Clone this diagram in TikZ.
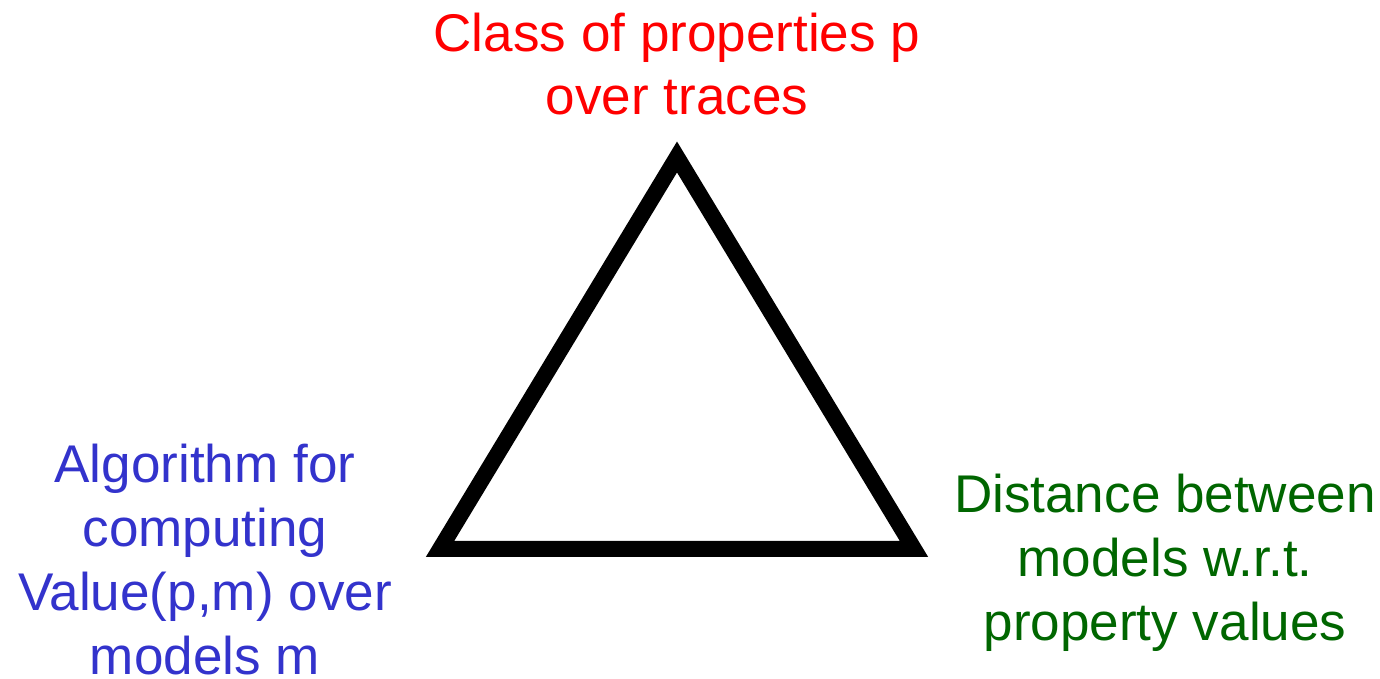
\documentclass[tikz,border=0pt]{standalone}
\usepackage{fontspec}
\setmainfont{Liberation Sans}
\usetikzlibrary{positioning}
\definecolor{triblack}{RGB}{0,0,0}
\definecolor{trired}{RGB}{255,0,0}
\definecolor{triblue}{RGB}{51,51,204}
\definecolor{trigreen}{RGB}{0,102,0}
\tikzset{
  vertex/.style={
    inner sep=0pt, anchor=base, align=center,
    font=\fontsize{30.2}{36.4}\selectfont
  },
  vertexR/.style={vertex, text=trired},
  vertexB/.style={vertex, text=triblue},
  vertexG/.style={vertex, text=trigreen},
  tri/.style={draw=triblack, line width=0.32cm, line join=miter}
}

\begin{document}
\begin{tikzpicture}
  \useasboundingbox (0,0) rectangle (27.6,-13.58);

  \coordinate (apex) at (13.54,-3.14);
  \coordinate (bl)   at (8.80,-10.98);
  \coordinate (br)   at (18.28,-10.98);

  \draw[tri] (apex) -- (bl) -- (br) -- cycle;

  % anchor=base sits on the last line
  \node[vertexR] (props) at (13.54,-2.30) {Class of properties p\\over traces};
  \node[vertexB] (algo)  at (4.10,-13.48)
    {Algorithm for\\computing\\Value(p,m) over\\models m};
  \node[vertexG] (dist)  at (23.30,-12.80)
    {Distance between\\models w.r.t.\\property values};
\end{tikzpicture}
\end{document}
